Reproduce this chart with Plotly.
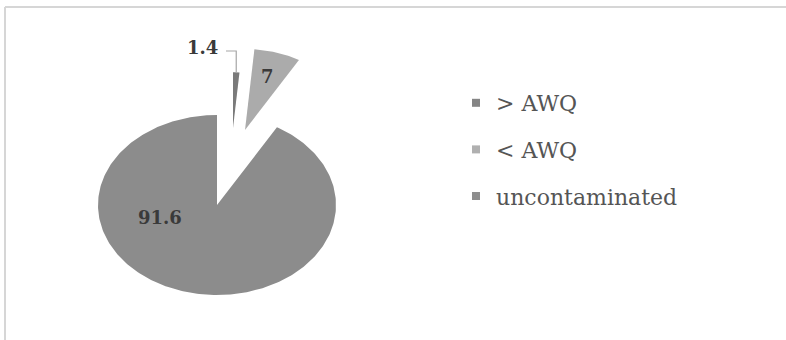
import math
import html
import plotly.graph_objects as go

# ---- data ----
categories = ["> AWQ", "< AWQ", "uncontaminated"]
values = [1.4, 7, 91.6]
label_texts = ["1.4", "7", "91.6"]

# ---- style ----
slice_colors = ["#7a7a7a", "#ababab", "#8c8c8c"]
legend_colors = ["#858585", "#b0b0b0", "#8e8e8e"]
W, H = 786, 340
cx, cy, rx, ry = 217, 205, 119, 90          # ellipse (tilted pie) in px
# explosion offset (px) and radius scale for each slice
explode = [(16, -77, 0.62), (28, -75, 0.90), (0, 0, 1.0)]
# label anchor offsets relative to pie centre (px)
label_offsets = [(-15, -158), (50, -129), (-57, 12)]
label_font = dict(family="DejaVu Serif", size=18, color="#3a3a3a")

fig = go.Figure()

total = sum(values)
start = 0.0
mids = []
for i, (cat, v) in enumerate(zip(categories, values)):
    a0 = start
    a1 = start + 360.0 * v / total
    start = a1
    mids.append((a0 + a1) / 2)
    dx, dy, sc = explode[i]
    ox, oy = cx + dx, cy + dy
    n = max(4, int((a1 - a0) / 1.0))
    xs, ys = [ox], [oy]
    for k in range(n + 1):
        t = math.radians(a0 + (a1 - a0) * k / n)
        xs.append(ox + sc * rx * math.sin(t))
        ys.append(oy - sc * ry * math.cos(t))
    xs.append(ox)
    ys.append(oy)
    fig.add_trace(go.Scatter(
        x=xs, y=ys, mode="lines", fill="toself",
        fillcolor=slice_colors[i], line=dict(width=0, color=slice_colors[i]),
        hoverinfo="skip", showlegend=False,
    ))

# legend entries
for i, cat in enumerate(categories):
    fig.add_trace(go.Scatter(
        x=[None], y=[None], mode="markers",
        marker=dict(symbol="square", size=8, color=legend_colors[i]),
        name=html.escape(cat), legendgroup=f"g{i}",
    ))

# data labels
for i, txt in enumerate(label_texts):
    lx, ly = label_offsets[i]
    fig.add_annotation(x=cx + lx, y=cy + ly, text=f"<b>{txt}</b>", showarrow=False,
                       font=label_font, xref="x", yref="y")

# leader line for the small slice
dx, dy, sc = explode[0]
top_x = cx + dx + sc * rx * math.sin(math.radians(mids[0]))
top_y = cy + dy - sc * ry * math.cos(math.radians(mids[0]))
fig.add_trace(go.Scatter(
    x=[cx + label_offsets[0][0] + 24, top_x, top_x],
    y=[cy + label_offsets[0][1] + 4, cy + label_offsets[0][1] + 4, top_y],
    mode="lines", line=dict(color="#a6a6a6", width=1.2),
    hoverinfo="skip", showlegend=False,
))

# chart frame (top and left edges visible)
fig.add_shape(type="line", xref="paper", yref="paper", x0=5 / W, x1=1, y0=1 - 7 / H, y1=1 - 7 / H,
              line=dict(color="#d6d6d6", width=2))
fig.add_shape(type="line", xref="paper", yref="paper", x0=5 / W, x1=5 / W, y0=0, y1=1 - 7 / H,
              line=dict(color="#d6d6d6", width=2))

fig.update_layout(
    width=W, height=H,
    margin=dict(l=0, r=0, t=0, b=0),
    paper_bgcolor="white", plot_bgcolor="white",
    xaxis=dict(range=[0, W], visible=False, fixedrange=True),
    yaxis=dict(range=[H, 0], visible=False, fixedrange=True),
    showlegend=True,
    legend=dict(
        x=456 / W, y=1 - 82 / H, xanchor="left", yanchor="top",
        font=dict(family="DejaVu Serif", size=22, color="#555555"),
        traceorder="grouped", tracegroupgap=15,
        bgcolor="rgba(0,0,0,0)",
    ),
)

fig.write_html("out.html", config={"displayModeBar": False},
               post_script="document.body.style.margin='0';")
